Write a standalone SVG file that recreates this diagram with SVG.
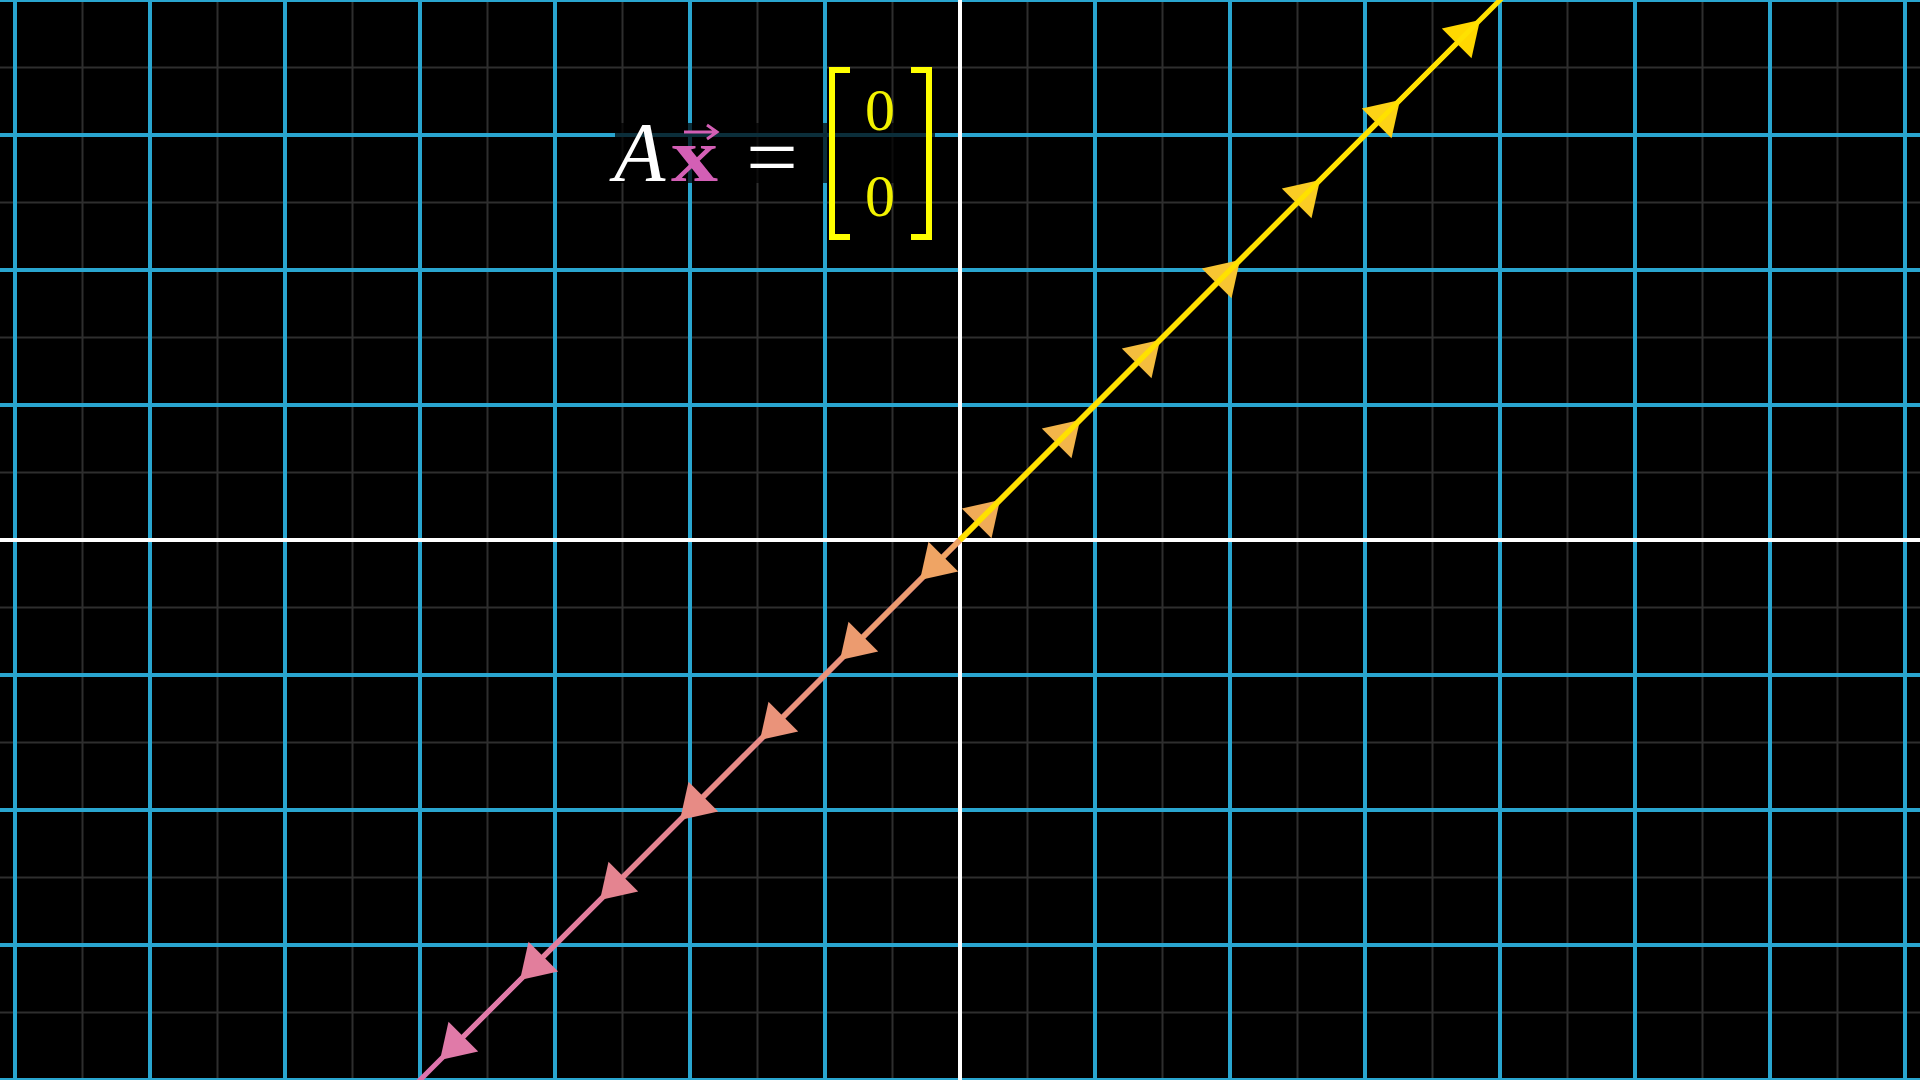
<svg xmlns="http://www.w3.org/2000/svg" width="1920" height="1080" viewBox="0 0 1920 1080">
<style>
.faint{stroke:#2e2e2e;stroke-width:2;fill:none}
.blue{stroke:#29A5CF;stroke-width:4;fill:none}
.axis{stroke:#ffffff;stroke-width:4;fill:none}
.shaft{stroke-width:5;fill:none;stroke-linecap:butt}
.serif{font-family:"Liberation Serif","DejaVu Serif",serif}
</style>
<defs>
<polygon id="headUp" points="0,0 -8.5,38.2 -38.2,8.5"/>
<polygon id="headDown" points="0,0 8.5,-38.2 38.2,-8.5"/>
</defs>
<rect x="0" y="0" width="1920" height="1080" fill="#000"/>
<g id="grid">
<path class="faint" d="M82.5 0V1080M217.5 0V1080M352.5 0V1080M487.5 0V1080M622.5 0V1080M757.5 0V1080M892.5 0V1080M1027.5 0V1080M1162.5 0V1080M1297.5 0V1080M1432.5 0V1080M1567.5 0V1080M1702.5 0V1080M1837.5 0V1080M0 67.5H1920M0 202.5H1920M0 337.5H1920M0 472.5H1920M0 607.5H1920M0 742.5H1920M0 877.5H1920M0 1012.5H1920"/>
<path class="blue" d="M15 0V1080M150 0V1080M285 0V1080M420 0V1080M555 0V1080M690 0V1080M825 0V1080M1095 0V1080M1230 0V1080M1365 0V1080M1500 0V1080M1635 0V1080M1770 0V1080M1905 0V1080M0 0H1920M0 135H1920M0 270H1920M0 405H1920M0 675H1920M0 810H1920M0 945H1920M0 1080H1920"/>
<path class="axis" d="M960 0V1080M0 540H1920"/>
</g>
<g id="connectors">
<line class="shaft" stroke="#DF74AE" x1="960" y1="540" x2="360" y2="1140"/>
<line class="shaft" stroke="#E07AA8" x1="960" y1="540" x2="463" y2="1037"/>
<use href="#headDown" x="440" y="1060" fill="#E07AA8"/>
<line class="shaft" stroke="#E27E9C" x1="960" y1="540" x2="543" y2="957"/>
<use href="#headDown" x="520" y="980" fill="#E27E9C"/>
<line class="shaft" stroke="#E48490" x1="960" y1="540" x2="623" y2="877"/>
<use href="#headDown" x="600" y="900" fill="#E48490"/>
<line class="shaft" stroke="#E78B85" x1="960" y1="540" x2="703" y2="797"/>
<use href="#headDown" x="680" y="820" fill="#E78B85"/>
<line class="shaft" stroke="#EA937A" x1="960" y1="540" x2="783" y2="717"/>
<use href="#headDown" x="760" y="740" fill="#EA937A"/>
<line class="shaft" stroke="#EC9B6F" x1="960" y1="540" x2="863" y2="637"/>
<use href="#headDown" x="840" y="660" fill="#EC9B6F"/>
<line class="shaft" stroke="#EFA464" x1="960" y1="540" x2="943" y2="557"/>
<use href="#headDown" x="920" y="580" fill="#EFA464"/>
<line class="shaft" stroke="#F0AB58" x1="960" y1="540" x2="977" y2="523"/>
<use href="#headUp" x="1000" y="500" fill="#F0AB58"/>
<line class="shaft" stroke="#F2B54A" x1="960" y1="540" x2="1057" y2="443"/>
<use href="#headUp" x="1080" y="420" fill="#F2B54A"/>
<line class="shaft" stroke="#F4BD3E" x1="960" y1="540" x2="1137" y2="363"/>
<use href="#headUp" x="1160" y="340" fill="#F4BD3E"/>
<line class="shaft" stroke="#F7C532" x1="960" y1="540" x2="1217" y2="283"/>
<use href="#headUp" x="1240" y="260" fill="#F7C532"/>
<line class="shaft" stroke="#FACC24" x1="960" y1="540" x2="1297" y2="203"/>
<use href="#headUp" x="1320" y="180" fill="#FACC24"/>
<line class="shaft" stroke="#FCD216" x1="960" y1="540" x2="1377" y2="123"/>
<use href="#headUp" x="1400" y="100" fill="#FCD216"/>
<line class="shaft" stroke="#FFD700" x1="960" y1="540" x2="1457" y2="43"/>
<use href="#headUp" x="1480" y="20" fill="#FFD700"/>
<line class="shaft" stroke="#FFE100" x1="960" y1="540" x2="1560" y2="-60"/>
</g>
<g id="equation">
<rect x="615" y="123" width="320" height="60" fill="#000" fill-opacity="0.72"/>
<text class="serif" x="614" y="181" font-size="84" font-style="italic" fill="#ffffff">A</text>
<text class="serif" x="671" y="181" font-size="76" font-weight="bold" fill="#D35FB5" textLength="47" lengthAdjust="spacingAndGlyphs">x</text>
<path d="M684 132H716M707 125L717 132L707 139" stroke="#D35FB5" stroke-width="3" fill="none"/>
<text class="serif" x="746" y="186" font-size="84" fill="#ffffff" textLength="52" lengthAdjust="spacingAndGlyphs">=</text>
<path d="M850 70H832V237H850M911 70H929V237H911" stroke="#FFFF00" stroke-width="6" fill="none"/>
<text class="serif" x="880" y="130" font-size="60" fill="#F2F200" text-anchor="middle">0</text>
<text class="serif" x="880" y="216" font-size="60" fill="#F2F200" text-anchor="middle">0</text>
</g>
</svg>
